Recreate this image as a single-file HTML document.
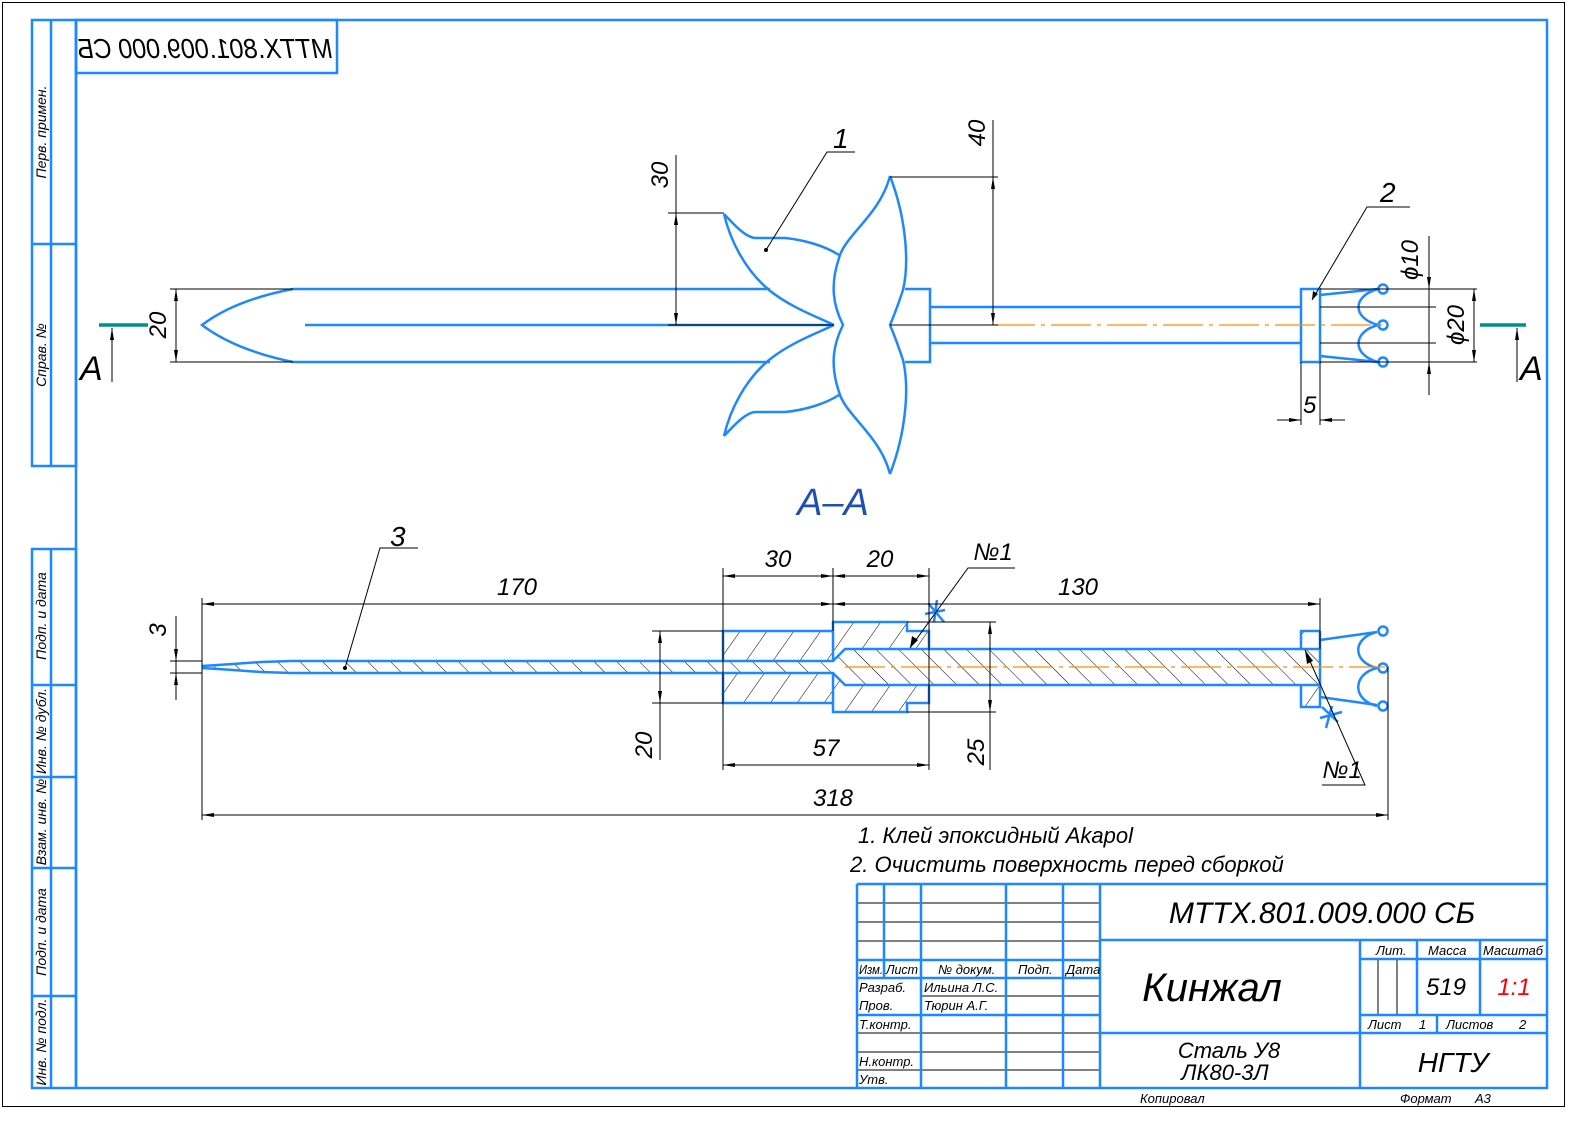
<!DOCTYPE html>
<html><head><meta charset="utf-8">
<style>
html,body{margin:0;padding:0;background:#fff;}
svg{display:block;}
text{font-family:"Liberation Sans Narrow","Liberation Sans","DejaVu Sans",sans-serif;font-style:italic;fill:#000;}
</style></head>
<body>
<svg width="1592" height="1127" viewBox="0 0 1592 1127" xmlns="http://www.w3.org/2000/svg">
<defs>
<marker id="ar" viewBox="0 0 12 4" refX="12" refY="2" markerWidth="12" markerHeight="4" markerUnits="userSpaceOnUse" orient="auto-start-reverse"><path d="M0,0L12,2L0,4z" fill="#000"/></marker>
<pattern id="h1" patternUnits="userSpaceOnUse" width="16" height="16" patternTransform="rotate(-45)"><line x1="0" y1="0" x2="0" y2="16" stroke="#000" stroke-width="1"/></pattern>
<pattern id="h2" patternUnits="userSpaceOnUse" width="22" height="22" patternTransform="rotate(35)"><line x1="0" y1="0" x2="0" y2="22" stroke="#000" stroke-width="1"/></pattern>
</defs>
<rect width="1592" height="1127" fill="#fff"/>
<rect x="2.5" y="2.5" width="1562" height="1104" fill="none" stroke="#000" stroke-width="1"/>

<!-- frame -->
<g fill="none" stroke="#1e88ff" stroke-width="2.5">
<rect x="76" y="20" width="1471" height="1068"/>
<rect x="32" y="20" width="44" height="446"/>
<line x1="51" y1="20" x2="51" y2="466"/>
<line x1="32" y1="244" x2="76" y2="244"/>
<rect x="32" y="549" width="44" height="539"/>
<line x1="51" y1="549" x2="51" y2="1088"/>
<line x1="32" y1="685" x2="76" y2="685"/>
<line x1="32" y1="777" x2="76" y2="777"/>
<line x1="32" y1="868" x2="76" y2="868"/>
<line x1="32" y1="996" x2="76" y2="996"/>
<rect x="76" y="20" width="261" height="53"/>
</g>
<g font-size="14">
<text transform="translate(46,132) rotate(-90)" text-anchor="middle">Перв. примен.</text>
<text transform="translate(46,355) rotate(-90)" text-anchor="middle">Справ. №</text>
<text transform="translate(46,616) rotate(-90)" text-anchor="middle">Подп. и дата</text>
<text transform="translate(46,731) rotate(-90)" text-anchor="middle">Инв. № дубл.</text>
<text transform="translate(46,822) rotate(-90)" text-anchor="middle">Взам. инв. №</text>
<text transform="translate(46,932) rotate(-90)" text-anchor="middle">Подп. и дата</text>
<text transform="translate(46,1042) rotate(-90)" text-anchor="middle">Инв. № подл.</text>
</g>
<text transform="translate(205,58) scale(-1,1)" text-anchor="middle" font-size="28" textLength="255" lengthAdjust="spacingAndGlyphs">МТТХ.801.009.000 СБ</text>

<!-- TOP VIEW -->
<g fill="none" stroke="#1e88ff" stroke-width="2.5">
<path d="M293,289 L770,289 M293,362 L770,362 M305,325 L834,325"/>
<path d="M293,289 Q235,300 202,325 Q235,350 293,362"/>
<path d="M724,214 C732,222 745,238 756,238 L785,238 C805,240 825,246 839,255"/>
<path d="M724,214 C730,240 745,270 769,290 C790,307 815,316 834,325"/>
<path d="M724,436 C732,428 745,412 756,412 L785,412 C805,410 825,404 839,395"/>
<path d="M724,436 C730,410 745,380 769,360 C790,343 815,334 834,325"/>
<path d="M890,176 C880,215 845,235 839,258 C830,285 833,305 843,325 C833,345 830,365 839,392 C845,415 880,435 890,474"/>
<path d="M890,176 C905,215 910,260 903,290 C898,305 893,318 890,325 C893,332 898,345 903,360 C910,390 905,435 890,474"/>
<path d="M905,289 L930,289 L930,362 L905,362"/>
<path d="M930,307 L1301,307 M930,343 L1301,343"/>
<rect x="1301" y="289" width="19" height="73"/>
<path d="M1320,295 L1378,289 M1320,356 L1378,362"/>
<path d="M1378,289 C1352,296 1352,318 1378,325 C1352,332 1352,355 1378,362"/>
<circle cx="1383" cy="289" r="4.5"/><circle cx="1383" cy="325" r="4.5"/><circle cx="1383" cy="362" r="4.5"/>
</g>
<line x1="995" y1="325" x2="1380" y2="325" stroke="#ff8c00" stroke-width="1.3" stroke-dasharray="40,6,4,6"/>
<g stroke="#00908a" stroke-width="3.5"><line x1="99" y1="325" x2="148" y2="325"/><line x1="1480" y1="325" x2="1526" y2="325"/></g>
<g stroke="#000" stroke-width="1" fill="none">
<line x1="112" y1="382" x2="112" y2="328" marker-end="url(#ar)"/>
<line x1="1517" y1="382" x2="1517" y2="328" marker-end="url(#ar)"/>
<path d="M170,289 H293 M170,362 H293"/>
<line x1="176" y1="289" x2="176" y2="362" marker-start="url(#ar)" marker-end="url(#ar)"/>
<path d="M668,213 H724 M668,325 H834"/>
<line x1="676" y1="155" x2="676" y2="213"/>
<line x1="676" y1="213" x2="676" y2="325" marker-start="url(#ar)" marker-end="url(#ar)"/>
<path d="M890,177 H998 M890,325 H998"/>
<line x1="993" y1="120" x2="993" y2="177"/>
<line x1="993" y1="177" x2="993" y2="325" marker-start="url(#ar)" marker-end="url(#ar)"/>
<path d="M766,250 L827,152 H855"/>
<path d="M1312,300 L1367,207 H1410"/>
<path d="M1320,289 H1477 M1320,362 H1477 M1320,307 H1436 M1320,343 H1436"/>
<line x1="1429" y1="236" x2="1429" y2="289" marker-end="url(#ar)"/>
<line x1="1429" y1="289" x2="1429" y2="362"/>
<line x1="1429" y1="395" x2="1429" y2="362" marker-end="url(#ar)"/>
<line x1="1474" y1="289" x2="1474" y2="362" marker-start="url(#ar)" marker-end="url(#ar)"/>
<path d="M1301,362 V425 M1320,362 V425"/>
<line x1="1277" y1="420" x2="1301" y2="420" marker-end="url(#ar)"/>
<line x1="1345" y1="420" x2="1320" y2="420" marker-end="url(#ar)"/>
</g>
<circle cx="766" cy="250" r="2" fill="#000"/>
<path d="M1312,300 l1,-9 l5,3z" fill="#000"/>
<g font-size="24">
<text transform="translate(166,325) rotate(-90)" text-anchor="middle">20</text>
<text transform="translate(668,175) rotate(-90)" text-anchor="middle">30</text>
<text transform="translate(985,133) rotate(-90)" text-anchor="middle">40</text>
<text x="833" y="148" font-size="28">1</text>
<text x="1380" y="202" font-size="28">2</text>
<text transform="translate(1418,260) rotate(-90)" text-anchor="middle">ϕ10</text>
<text transform="translate(1464,325) rotate(-90)" text-anchor="middle">ϕ20</text>
<text x="1303" y="413">5</text>
</g>
<text x="80" y="380" font-size="34" font-style="normal">A</text>
<text x="1520" y="380" font-size="34" font-style="normal">A</text>
<text x="833" y="515" font-size="38" font-style="normal" text-anchor="middle" style="fill:#1f4fb5">А–А</text>

<!-- SECTION -->
<path d="M723,631 H833 V703 H723 Z" fill="url(#h2)"/>
<path d="M833,622 H907 V631 H929 V703 H907 V712 H833 Z" fill="url(#h2)"/>
<path d="M1320,631 H1301 V707 H1320 Z" fill="url(#h2)"/>
<path d="M202,666 L218,665 L233,664 L261,662 L291,661 L833,661 L845,649 L1320,649 L1320,685 L845,685 L833,673 L291,673 L261,672 L233,670 L218,669 L202,668 Z" fill="#fff"/>
<path d="M202,666 L218,665 L233,664 L261,662 L291,661 L833,661 L845,649 L1320,649 L1320,685 L845,685 L833,673 L291,673 L261,672 L233,670 L218,669 L202,668 Z" fill="url(#h1)"/>
<g fill="none" stroke="#1e88ff" stroke-width="2.5">
<path d="M202,666 L218,665 L233,664 L261,662 L291,661 L833,661 L845,649 L1320,649 M1320,685 L845,685 L833,673 L291,673 L261,672 L233,670 L218,669 L202,668"/>
<path d="M723,661 V631 H833 M723,673 V703 H833"/>
<path d="M833,661 V622 H907 V631 H929 V649 M929,685 V703 H907 V712 H833 V673"/>
<path d="M1320,631 H1301 V649 M1301,685 V707 H1320 V697 M1320,631 V640"/>
<line x1="1320" y1="640" x2="1320" y2="697"/>
<path d="M1320,640 L1377,632 M1320,697 L1377,705"/>
<path d="M1377,632 C1352,638 1352,662 1377,668 C1352,674 1352,700 1377,706"/>
<circle cx="1383" cy="631" r="4.5"/><circle cx="1383" cy="668" r="4.5"/><circle cx="1383" cy="706" r="4.5"/>
<path d="M928,603 L944,622 M925,614 L945,610 M937,600 L934,622"/>
<path d="M1322,707 L1338,722 M1320,718 L1342,712 M1332,706 L1326,728"/>
</g>
<line x1="845" y1="667" x2="1385" y2="667" stroke="#ff8c00" stroke-width="1.3" stroke-dasharray="40,6,4,6"/>
<g stroke="#000" stroke-width="1" fill="none">
<path d="M202,598 V820 M1388,667 V820 M723,568 V770 M833,568 V631 M929,568 V770"/>
<line x1="1320" y1="598" x2="1320" y2="649"/>
<path d="M170,661 H202 M170,673 H202"/>
<line x1="176" y1="616" x2="176" y2="661" marker-end="url(#ar)"/>
<line x1="176" y1="700" x2="176" y2="673" marker-end="url(#ar)"/>
<line x1="176" y1="661" x2="176" y2="673"/>
<line x1="723" y1="576" x2="833" y2="576" marker-start="url(#ar)" marker-end="url(#ar)"/>
<line x1="833" y1="576" x2="929" y2="576" marker-start="url(#ar)" marker-end="url(#ar)"/>
<line x1="202" y1="604" x2="833" y2="604" marker-start="url(#ar)" marker-end="url(#ar)"/>
<line x1="833" y1="604" x2="1320" y2="604" marker-start="url(#ar)" marker-end="url(#ar)"/>
<line x1="723" y1="765" x2="929" y2="765" marker-start="url(#ar)" marker-end="url(#ar)"/>
<line x1="202" y1="815" x2="1388" y2="815" marker-start="url(#ar)" marker-end="url(#ar)"/>
<path d="M652,631 H723 M652,703 H723"/>
<line x1="660" y1="631" x2="660" y2="703" marker-start="url(#ar)" marker-end="url(#ar)"/>
<line x1="660" y1="703" x2="660" y2="760"/>
<path d="M907,622 H996 M907,712 H996"/>
<line x1="990" y1="622" x2="990" y2="712" marker-start="url(#ar)" marker-end="url(#ar)"/>
<line x1="990" y1="712" x2="990" y2="770"/>
<path d="M345,668 L380,548 H418"/>
<path d="M910,648 L968,568 H1015"/>
<path d="M1305,650 L1365,785 H1322"/>
</g>
<circle cx="345" cy="668" r="2" fill="#000"/>
<path d="M910,648 l2,-12 l6,4z" fill="#000"/>
<path d="M1305,650 l2,14 l6,-3z" fill="#000"/>
<g font-size="24">
<text x="517" y="595" text-anchor="middle">170</text>
<text x="778" y="567" text-anchor="middle">30</text>
<text x="880" y="567" text-anchor="middle">20</text>
<text x="1078" y="595" text-anchor="middle">130</text>
<text x="826" y="756" text-anchor="middle">57</text>
<text x="833" y="806" text-anchor="middle">318</text>
<text transform="translate(166,630) rotate(-90)" text-anchor="middle">3</text>
<text transform="translate(652,745) rotate(-90)" text-anchor="middle">20</text>
<text transform="translate(984,752) rotate(-90)" text-anchor="middle">25</text>
<text x="993" y="560" text-anchor="middle">№1</text>
<text x="1342" y="778" text-anchor="middle">№1</text>
<text x="390" y="546" font-size="28">3</text>
</g>
<g font-size="22">
<text x="858" y="843">1. Клей эпоксидный Akapol</text>
<text x="850" y="872">2. Очистить поверхность перед сборкой</text>
</g>

<!-- TITLE BLOCK -->
<g stroke="#000" stroke-width="1">
<path d="M857,903 H1100 M857,922 H1100 M857,941 H1100 M921,996 H1100 M857,1033 H1100 M857,1052 H1100 M857,1070 H1100"/>
<path d="M1378,959 V1015 M1397,959 V1015"/>
</g>
<g fill="none" stroke="#1e88ff" stroke-width="2.5">
<path d="M857,884 H1547 M857,884 V1088 M884,884 V978 M921,884 V1088 M1006,884 V1088 M1063,884 V1088 M1100,884 V1088"/>
<path d="M857,960 H1100 M857,978 H1100 M857,1015 H1100"/>
<path d="M1100,940 H1547 M1100,1033 H1547 M1360,940 V1088 M1360,959 H1547 M1360,1015 H1547 M1417,940 V1015 M1480,940 V1015 M1437,1015 V1033"/>
</g>
<g font-size="13">
<text x="859" y="974" textLength="24" lengthAdjust="spacingAndGlyphs">Изм.</text><text x="886" y="974" textLength="32" lengthAdjust="spacingAndGlyphs">Лист</text><text x="938" y="974">№ докум.</text><text x="1018" y="974">Подп.</text><text x="1066" y="974">Дата</text>
<text x="859" y="992">Разраб.</text><text x="924" y="992">Ильина Л.С.</text>
<text x="859" y="1010">Пров.</text><text x="924" y="1010">Тюрин А.Г.</text>
<text x="859" y="1029">Т.контр.</text>
<text x="859" y="1066">Н.контр.</text>
<text x="859" y="1084">Утв.</text>
<text x="1376" y="955">Лит.</text><text x="1428" y="955">Масса</text><text x="1483" y="955" textLength="60" lengthAdjust="spacingAndGlyphs">Масштаб</text>
<text x="1368" y="1029">Лист</text><text x="1419" y="1029">1</text><text x="1446" y="1029">Листов</text><text x="1519" y="1029">2</text>
<text x="1140" y="1103">Копировал</text><text x="1400" y="1103">Формат</text><text x="1475" y="1103">А3</text>
</g>
<text x="1322" y="923" font-size="30" text-anchor="middle">МТТХ.801.009.000 СБ</text>
<text x="1212" y="1001" font-size="40" text-anchor="middle">Кинжал</text>
<text x="1446" y="995" font-size="24" text-anchor="middle">519</text>
<text x="1514" y="995" font-size="24" text-anchor="middle" style="fill:#f00">1:1</text>
<text x="1229" y="1058" font-size="22" text-anchor="middle">Сталь У8</text>
<text x="1225" y="1080" font-size="22" text-anchor="middle">ЛК80-3Л</text>
<text x="1453" y="1072" font-size="28" text-anchor="middle">НГТУ</text>
</svg>
</body></html>
